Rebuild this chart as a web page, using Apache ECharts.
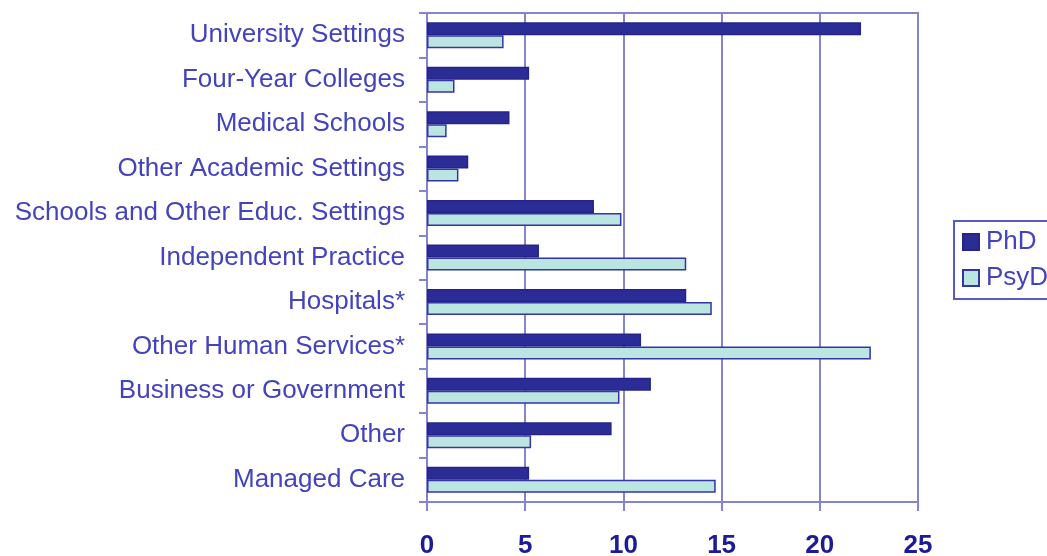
<!DOCTYPE html>
<html>
<head>
<meta charset="utf-8">
<script src="https://cdn.jsdelivr.net/npm/echarts@6/dist/echarts.min.js"></script>
<style>
  html, body { margin: 0; padding: 0; background: #fff; }
  #main { width: 1047px; height: 556px; }
</style>
</head>
<body>
<div id="main"></div>
<script>
var categories = [
  'University Settings',
  'Four-Year Colleges',
  'Medical Schools',
  'Other Academic Settings',
  'Schools and Other Educ. Settings',
  'Independent Practice',
  'Hospitals*',
  'Other Human Services*',
  'Business or Government',
  'Other',
  'Managed Care'
];
var phdValues  = [22.1, 5.2, 4.2, 2.1, 8.5, 5.7, 13.2, 10.9, 11.4, 9.4, 5.2];
var psydValues = [3.9, 1.4, 1.0, 1.6, 9.9, 13.2, 14.5, 22.6, 9.8, 5.3, 14.7];
var xTicks = [0, 5, 10, 15, 20, 25];

var chartDom = document.getElementById('main');
var myChart = echarts.init(chartDom);

var font = '"Liberation Sans", Arial, sans-serif';
var gridColor = '#8585cf';
var labelBlue = '#4343bd';
var navy = '#2c2c96';

myChart.setOption({
  animation: false,
  textStyle: { fontFamily: font },
  grid: {
    left: 427, right: 129, top: 13, bottom: 54,
    outerBoundsMode: 'none',
    show: true, borderColor: gridColor, borderWidth: 2
  },
  legend: {
    orient: 'vertical',
    left: 954,
    top: 221,
    padding: [8, 60, 8, 8],
    itemGap: 10,
    itemWidth: 16,
    itemHeight: 16,
    borderColor: '#5a5ac2',
    borderWidth: 2,
    textStyle: { fontFamily: font, fontSize: 26, color: labelBlue, padding: [0, 0, 0, 2] },
    data: [
      { name: 'PhD', icon: 'rect' },
      { name: 'PsyD', icon: 'rect' }
    ]
  },
  xAxis: {
    type: 'value',
    min: xTicks[0],
    max: xTicks[xTicks.length - 1],
    interval: 5,
    axisLine: { show: true, lineStyle: { color: gridColor, width: 2 } },
    axisTick: { show: true, length: 9, lineStyle: { color: gridColor, width: 2 } },
    splitLine: { show: true, lineStyle: { color: gridColor, width: 2 } },
    axisLabel: {
      margin: 31,
      fontFamily: font,
      fontSize: 26,
      fontWeight: 'bold',
      color: '#1c1c96'
    }
  },
  yAxis: {
    type: 'category',
    inverse: true,
    data: categories,
    axisLine: { show: true, lineStyle: { color: gridColor, width: 2 } },
    axisTick: { show: true, length: 8, lineStyle: { color: gridColor, width: 2 } },
    axisLabel: {
      margin: 22,
      fontFamily: font,
      fontSize: 26,
      color: labelBlue,
      padding: [7, 0, 0, 0]
    }
  },
  series: [
    {
      name: 'PhD',
      type: 'bar',
      data: phdValues,
      barWidth: 13,
      barGap: '0%',
      itemStyle: { color: navy, borderColor: '#24248a', borderWidth: 1.5 }
    },
    {
      name: 'PsyD',
      type: 'bar',
      data: psydValues,
      barWidth: 13,
      barGap: '0%',
      itemStyle: { color: '#bbe5e1', borderColor: '#3434a6', borderWidth: 1.5 }
    }
  ]
});

window.addEventListener('resize', myChart.resize);
</script>
</body>
</html>
